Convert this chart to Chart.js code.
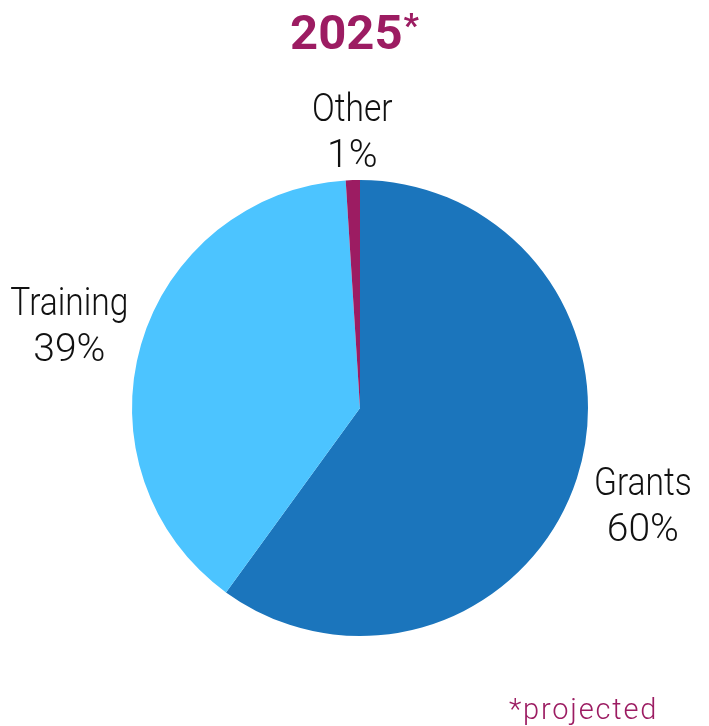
<!DOCTYPE html>
<html>
<head>
<meta charset="utf-8">
<script src="https://cdn.jsdelivr.net/npm/chart.js@4"></script>
<style>
  html, body { margin: 0; padding: 0; background: #fff; }
  #wrap { position: relative; width: 709px; height: 726px; }
  #title {
    position: absolute; left: 0; top: 4px; width: 709px; text-align: center;
    font-family: Roboto, sans-serif; font-weight: 700; font-size: 49px; color: #9c1c62;
  }
  #title sup { font-size: 34px; vertical-align: 12px; line-height: 0; margin-left: 1px; }
  #note {
    position: absolute; left: 509px; top: 692px;
    font-family: Roboto, sans-serif; font-weight: 300; font-size: 29px; color: #9c1c62;
    letter-spacing: 1.8px;
  }
  canvas { position: absolute; left: 0; top: 0; }
</style>
</head>
<body>
<div id="wrap">
  <canvas id="pieChart" width="709" height="726"></canvas>
  <div id="title">2025<sup>*</sup></div>
  <div id="note">*projected</div>
</div>
<script>
// Datos del gráfico
const categories = ['Grants', 'Training', 'Other'];
const shares = [60, 39, 1];
const sliceColors = ['#1b75bc', '#4cc4ff', '#9c1c62'];

// distancia de cada etiqueta desde el centro (múltiplo del radio) y ajuste fino en píxeles
const labelDistance = [1.3, 1.3, 1.22];
const labelShift = [[1, 8], [-6, 2], [1, 3]];

const outsideLabels = {
    id: 'outsideLabels',
    afterDraw(chart) {
        const ctx = chart.ctx;
        const meta = chart.getDatasetMeta(0);
        meta.data.forEach((arc, i) => {
            const mid = (arc.startAngle + arc.endAngle) / 2;
            const r = arc.outerRadius * labelDistance[i];
            const x = arc.x + Math.cos(mid) * r + labelShift[i][0];
            const y = arc.y + Math.sin(mid) * r + labelShift[i][1];
            ctx.save();
            ctx.translate(x, y);
            ctx.font = '300 39px Roboto, sans-serif';
            ctx.fillStyle = '#111';
            ctx.textAlign = 'center';
            ctx.textBaseline = 'middle';
            ctx.fillText(shares[i] + '%', 0, 24);
            ctx.scale(0.86, 1); // nombre más estrecho, parecido al original
            ctx.fillText(categories[i], 0, -22);
            ctx.restore();
        });
    }
};

const ctx = document.getElementById('pieChart').getContext('2d');
new Chart(ctx, {
    type: 'pie',
    data: {
        labels: categories,
        datasets: [{
            data: shares,
            backgroundColor: sliceColors,
            borderWidth: 0
        }]
    },
    options: {
        responsive: false,
        animation: false,
        plugins: {
            legend: { display: false },
            tooltip: { enabled: false }
        },
        layout: {
            padding: { top: 180, bottom: 90, left: 132, right: 121 }
        }
    },
    plugins: [outsideLabels]
});
</script>
</body>
</html>
